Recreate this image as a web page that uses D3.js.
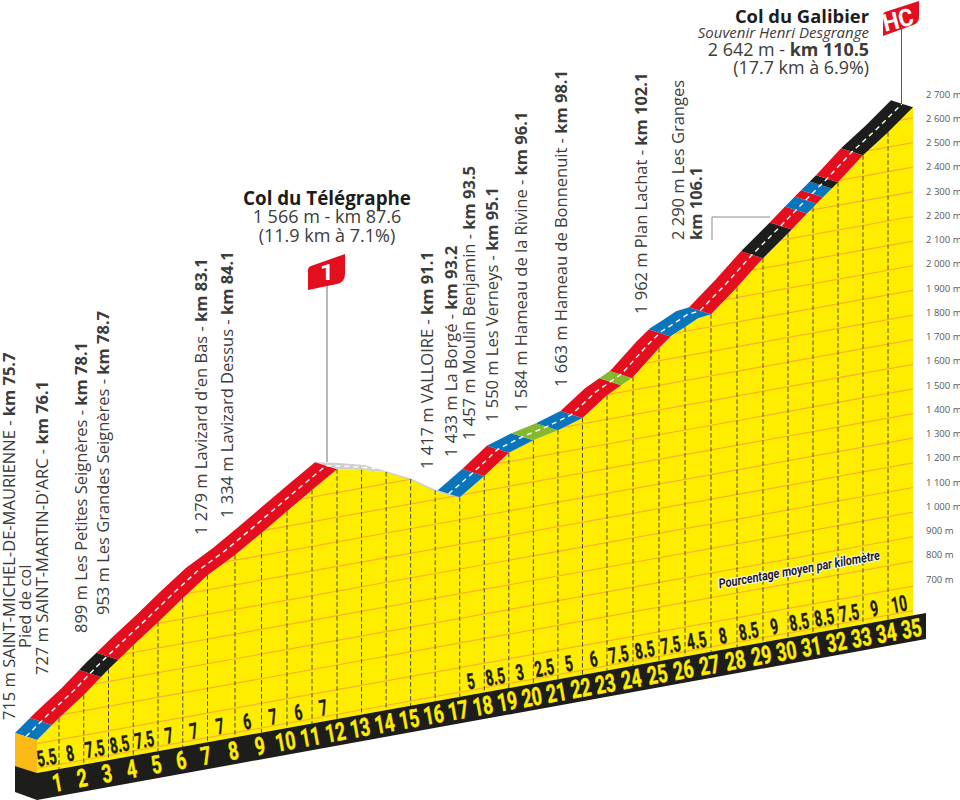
<!DOCTYPE html>
<html>
<head>
<meta charset="utf-8">
<script src="https://cdnjs.cloudflare.com/ajax/libs/d3/7.8.5/d3.min.js"></script>
<style>
  html, body { margin: 0; padding: 0; background: #fff; }
  svg { display: block; }
  text { font-family: 'Open Sans', sans-serif; fill: #3c3c3b; }
  .narrow { font-family: 'Liberation Sans Narrow', 'Roboto', sans-serif; font-weight: 700; }
</style>
</head>
<body>
<svg id="chart" width="960" height="800"></svg>
<script>
// profile
var profileKm = [0,1,2,3,4,5,6,6.6,7,8,9,10,11,12,13,14,15,16,17,18,19,20,21,22,23,24,25,25.5,26,26.5,27,28,29,30,31,32,33,34,35];
var elevation = [715,788,863,950,1029,1105,1184,1229,1259,1321,1391,1461,1529,1595,1574,1548,1501,1437,1391,1460,1536,1569,1592,1623,1698,1753,1852,1894,1918,1944,1951,2041,2140,2223,2310,2394,2485,2560,2643];

var kmNumbers = d3.range(1, 36);
var gradients = ['5.5','8','7.5','8.5','7.5','7','7','7','6','7','6','7',null,null,null,null,null,'5','8.5','3','2.5','5','6','7.5','8.5','7.5','4.5','8','8.5','9','8.5','8.5','7.5','9','10'];

var roadStops = [0,0.68,2.7,3.4,12,17,18,19,20,21,22,23.55,23.95,25.45,27,29,30.15,30.76,31.15,31.4,31.75,32,33,35];
var roadColors = ['blue','red','black','red','gray','blue','red','blue','green','blue','red','green','red','blue','red','black','red','blue','red','blue','black','red','black'];

var elevationTicks = d3.range(700, 2701, 100);

var placeNames = [
  '715 m SAINT-MICHEL-DE-MAURIENNE - ', 'Pied de col', "727 m SAINT-MARTIN-D'ARC - ",
  '899 m Les Petites Seignères - ', '953 m Les Grandes Seignères - ',
  "1 279 m Lavizard d'en Bas - ", '1 334 m Lavizard Dessus - ',
  '1 417 m VALLOIRE - ', '1 433 m La Borgé - ', '1 457 m Moulin Benjamin - ',
  '1 550 m Les Verneys - ', '1 584 m Hameau de la Rivine - ', '1 663 m Hameau de Bonnenuit - ',
  '1 962 m Plan Lachat - ', '2 290 m Les Granges', ''
];
var placeKm = ['km 75.7','','km 76.1','km 78.1','km 78.7','km 83.1','km 84.1','km 91.1','km 93.2','km 93.5','km 95.1','km 96.1','km 98.1','km 102.1','','km 106.1'];

// layout
var palette = { blue: '#0b75bb', red: '#e30f1f', black: '#1d1d1b', green: '#86b82e', gray: '#cfcfcf' };
var yellow = '#ffed00', orange = '#f7b32a';
var placeBaseX = [15,31,48,87,109,207,233,433,457,475,498,527,567,647,684,702];
var placeBaseY = [720,648,675,633,615,535,518,469,457,440,422,412,387,314,240,240];
var roadDx = -22, roadDy = -7;

var svg = d3.select('#chart');

// x is nearly regular, the km posts drift a little on the original
var x = d3.scaleLinear().domain([0,1,7,8,9,10,12,23,29,35]).range([37,59,207.5,235,261.5,287,337,607,763,913]);
// the floor of the block climbs to the right
var ground = d3.scaleLinear().domain([37,926]).range([773,613]);
var rise = d3.scaleLinear().domain([581,2643]).range([0,508]);
var elevAt = d3.scaleLinear().domain(profileKm).range(elevation);

function front(k) {
  var px = x(k);
  return [px, ground(px) - rise(elevAt(k))];
}
function offset(p, f) {
  return [p[0] + roadDx * f, p[1] + roadDy * f];
}
function kmsBetween(a, b) {
  return [a].concat(profileKm.filter(function(k) { return k > a && k < b; }), [b]);
}
function levelY(px, e) {
  return ground(px) - rise(e);
}

var line = d3.line();

var roadSegments = roadColors.map(function(c, i) {
  var pts = kmsBetween(roadStops[i], roadStops[i + 1]).map(front);
  var back = pts.map(function(p) { return offset(p, 1); }).reverse();
  return { color: c, d: line(pts.concat(back)) + 'Z' };
});

// the hidden descent goes behind the yellow
svg.append('g').selectAll('path')
  .data(roadSegments.filter(function(s) { return s.color === 'gray'; }))
  .join('path')
  .attr('d', function(s) { return s.d; })
  .attr('fill', palette.gray);

// yellow face
var faceLine = line(profileKm.map(front).concat([[x(35), ground(x(35))], [x(0), ground(x(0))]])) + 'Z';
svg.append('path').attr('d', faceLine).attr('fill', yellow);
svg.append('clipPath').attr('id', 'face').append('path').attr('d', faceLine);

// thin rim of the descent where the road is seen edge on
svg.append('path')
  .attr('d', line(kmsBetween(14, 16.9).map(front)))
  .attr('fill', 'none').attr('stroke', palette.gray).attr('stroke-width', 1.5);

// 100 m level lines
svg.append('g').attr('clip-path', 'url(#face)').selectAll('line')
  .data(d3.range(600, 2701, 100))
  .join('line')
  .attr('x1', x(0)).attr('x2', x(35))
  .attr('y1', function(e) { return levelY(x(0), e); })
  .attr('y2', function(e) { return levelY(x(35), e); })
  .attr('stroke', orange).attr('stroke-width', 1.2);

// km posts
svg.append('g').selectAll('line')
  .data(d3.range(1, 35))
  .join('line')
  .attr('x1', function(k) { return x(k); }).attr('x2', function(k) { return x(k); })
  .attr('y1', function(k) { return front(k)[1]; })
  .attr('y2', function(k) { return ground(x(k)); })
  .attr('stroke', '#4a4a3a').attr('stroke-width', 1).attr('stroke-dasharray', '4.5,2.5');

// road ribbon
svg.append('g').selectAll('path')
  .data(roadSegments.filter(function(s) { return s.color !== 'gray'; }))
  .join('path')
  .attr('d', function(s) { return s.d; })
  .attr('fill', function(s) { return palette[s.color]; });

// centre dashes
[[0, 14], [17, 35]].forEach(function(r) {
  svg.append('path')
    .attr('d', line(kmsBetween(r[0], r[1]).map(function(k) { return offset(front(k), 0.5); })))
    .attr('fill', 'none').attr('stroke', '#fff').attr('stroke-width', 1.4).attr('stroke-dasharray', '5,4');
});

// block: left side and black floor strip
var x0 = x(0), y0 = ground(x0), yTop = front(0)[1];
svg.append('path').attr('fill', '#fbba16')
  .attr('d', line([[x0, yTop], offset([x0, yTop], 1), offset([x0, y0], 1), [x0, y0]]) + 'Z');
svg.append('path').attr('fill', palette.black)
  .attr('d', line([[x0, y0], offset([x0, y0], 1), offset([x0, y0 + 26], 1), [x0, y0 + 27], [926, ground(926) + 26], [926, ground(926)]]) + 'Z');

// numbers follow the slope of the floor
var slope = Math.atan2(ground(926) - ground(37), 889) * 180 / Math.PI;

svg.append('g').selectAll('text')
  .data(kmNumbers)
  .join('text')
  .attr('class', 'narrow')
  .attr('transform', function(k) { return 'translate(' + x(k) + ',' + (ground(x(k)) + 22) + ') rotate(' + slope + ') scale(0.7,1)'; })
  .attr('text-anchor', 'middle').attr('font-size', 25)
  .attr('stroke', yellow).attr('stroke-width', 0.5)
  .style('fill', yellow)
  .text(function(k) { return k; });

svg.append('g').selectAll('text')
  .data(gradients.map(function(g, i) { return { g: g, i: i }; }).filter(function(d) { return d.g; }))
  .join('text')
  .attr('class', 'narrow')
  .attr('transform', function(d) {
    var px = (x(d.i) + x(d.i + 1)) / 2;
    return 'translate(' + px + ',' + (ground(px) - 6) + ') rotate(' + slope + ') scale(0.62,1)';
  })
  .attr('text-anchor', 'middle').attr('font-size', 22)
  .attr('stroke', palette.black).attr('stroke-width', 0.4)
  .style('fill', palette.black)
  .text(function(d) { return d.g; });

svg.append('text')
  .attr('class', 'narrow')
  .attr('transform', 'translate(800,574) rotate(' + slope + ') scale(0.82,1)')
  .attr('text-anchor', 'middle')
  .attr('font-size', 13.5).attr('font-style', 'italic')
  .attr('paint-order', 'stroke').attr('stroke', '#fff').attr('stroke-width', 2)
  .style('fill', palette.black)
  .text('Pourcentage moyen par kilomètre');

// elevation scale on the right
var fmt = d3.formatLocale({ decimal: '.', thousands: ' ', grouping: [3], currency: ['', ''] }).format(',');
var labelY = d3.scaleLinear().domain([700, 2700]).range([579, 94]);
var axis = svg.append('g').attr('transform', 'translate(926,0)')
  .call(d3.axisRight(labelY).tickValues(elevationTicks).tickSize(0).tickPadding(0).tickFormat(function(d) { return fmt(d) + ' m'; }));
axis.select('.domain').remove();
axis.selectAll('text').attr('font-family', 'Open Sans').attr('font-size', 9.5).style('fill', '#575756');

// rotated place names
var places = svg.append('g').selectAll('text')
  .data(placeNames.map(function(n, i) { return { name: n, km: placeKm[i], i: i }; }))
  .join('text')
  .attr('transform', function(d) { return 'translate(' + placeBaseX[d.i] + ',' + placeBaseY[d.i] + ') rotate(-90)'; })
  .attr('font-size', 16.5);
places.append('tspan').text(function(d) { return d.name; });
places.append('tspan').attr('font-weight', 700).text(function(d) { return d.km; });

// poles and flags
svg.append('line').attr('x1', 327).attr('x2', 327).attr('y1', 285).attr('y2', 462).attr('stroke', '#a0a0a0').attr('stroke-width', 1.5);
svg.append('line').attr('x1', 901.5).attr('x2', 901.5).attr('y1', 28).attr('y2', 104).attr('stroke', '#575756').attr('stroke-width', 1);
svg.append('path').attr('d', 'M712,240V217H770').attr('fill', 'none').attr('stroke', '#8a8a8a').attr('stroke-width', 1);

svg.append('path').attr('fill', palette.red)
  .attr('d', 'M308,270Q308,267 311,266L345,254V274Q345,282 337,284L308,290Z');
svg.append('text').attr('class', 'narrow').attr('transform', 'translate(327,280) scale(1.1,1)')
  .attr('text-anchor', 'middle').attr('font-size', 22).style('fill', '#fff').text('1');

svg.append('path').attr('fill', palette.red)
  .attr('d', 'M883,15Q883,13 885,12L919,1V17Q919,23 913,25L883,36Z');
svg.append('text').attr('class', 'narrow').attr('transform', 'translate(900,28) rotate(-14) scale(0.95,1)')
  .attr('text-anchor', 'middle').attr('font-size', 24).style('fill', '#fff').text('HC');

// pass titles
var telegraphe = svg.append('g').attr('text-anchor', 'middle');
telegraphe.append('text').attr('x', 327).attr('y', 205).attr('font-size', 18.8).attr('font-weight', 700).style('fill', palette.black).text('Col du Télégraphe');
telegraphe.append('text').attr('x', 327).attr('y', 223).attr('font-size', 18).text('1 566 m - km 87.6');
telegraphe.append('text').attr('x', 327).attr('y', 242).attr('font-size', 18).text('(11.9 km à 7.1%)');

var galibier = svg.append('g').attr('text-anchor', 'end');
galibier.append('text').attr('x', 869).attr('y', 23).attr('font-size', 18.4).attr('font-weight', 700).style('fill', palette.black).text('Col du Galibier');
galibier.append('text').attr('x', 869).attr('y', 38).attr('font-size', 15).attr('font-style', 'italic').text('Souvenir Henri Desgrange');
var gal = galibier.append('text').attr('x', 869).attr('y', 56).attr('font-size', 17.9);
gal.append('tspan').text('2 642 m - ');
gal.append('tspan').attr('font-weight', 700).text('km 110.5');
galibier.append('text').attr('x', 869).attr('y', 74).attr('font-size', 17.9).text('(17.7 km à 6.9%)');
</script>
</body>
</html>
